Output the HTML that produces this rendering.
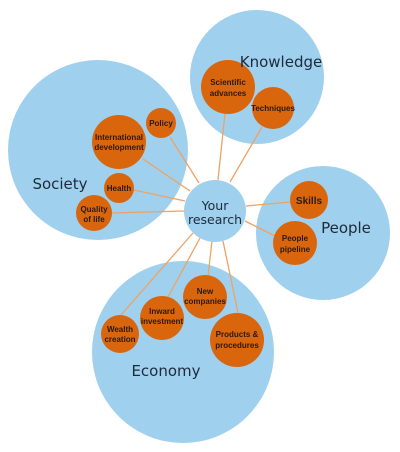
<!DOCTYPE html>
<html><head><meta charset="utf-8"><style>
html,body{margin:0;padding:0;background:#fff;width:400px;height:452px;overflow:hidden}
svg{display:block}
.b{fill:#9fd0ee}
.o{fill:#d9650c}
.l{stroke:#f0a262;stroke-width:1.3}
.t{font-family:"Liberation Sans",sans-serif;font-weight:bold;font-size:8px;fill:#2b1a10;text-anchor:middle}
.h{font-family:"DejaVu Sans","Liberation Sans",sans-serif;font-size:15px;fill:#1e2a3a;text-anchor:middle}
</style></head><body>
<svg width="400" height="452" viewBox="0 0 400 452">
<circle class="b" cx="257" cy="77" r="67"/>
<circle class="b" cx="98" cy="150" r="90"/>
<circle class="b" cx="323" cy="233" r="67"/>
<circle class="b" cx="183" cy="352" r="91"/>
<g class="l">
<line x1="170" y1="137" x2="199" y2="183"/>
<line x1="143" y1="159" x2="190" y2="191"/>
<line x1="134" y1="190" x2="185" y2="201"/>
<line x1="112" y1="213" x2="184" y2="211"/>
<line x1="225" y1="113" x2="218" y2="180"/>
<line x1="262" y1="127" x2="230" y2="182"/>
<line x1="290" y1="202" x2="246" y2="206"/>
<line x1="275" y1="236" x2="245" y2="221"/>
<line x1="121" y1="315" x2="193" y2="233"/>
<line x1="168" y1="297" x2="200" y2="238"/>
<line x1="208" y1="276" x2="212" y2="241"/>
<line x1="238" y1="313" x2="223" y2="241"/>
</g>
<circle class="b" cx="215" cy="211" r="31"/>
<g class="o">
<circle cx="228" cy="87" r="27"/>
<circle cx="273" cy="108" r="21"/>
<circle cx="161" cy="123" r="15"/>
<circle cx="119" cy="142" r="27"/>
<circle cx="119" cy="188" r="15"/>
<circle cx="94" cy="213" r="18"/>
<circle cx="309" cy="200" r="19"/>
<circle cx="295" cy="243" r="22"/>
<circle cx="205" cy="297" r="22"/>
<circle cx="162" cy="318" r="22"/>
<circle cx="120" cy="334" r="19"/>
<circle cx="237" cy="340" r="27"/>
</g>
<text class="h" x="281" y="67">Knowledge</text>
<text class="h" x="60" y="189">Society</text>
<text class="h" x="346" y="233">People</text>
<text class="h" x="166" y="376">Economy</text>
<text class="h" x="215" y="210" style="font-size:12.5px">Your</text>
<text class="h" x="215" y="224" style="font-size:12.5px">research</text>
<g class="t">
<text x="228" y="85">Scientific</text><text x="228" y="96">advances</text>
<text x="273" y="111">Techniques</text>
<text x="161" y="126">Policy</text>
<text x="119" y="140">International</text><text x="119" y="150">development</text>
<text x="119" y="191">Health</text>
<text x="94" y="212">Quality</text><text x="94" y="222">of life</text>
<text x="309" y="204" style="font-size:10px">Skills</text>
<text x="295" y="241">People</text><text x="295" y="252">pipeline</text>
<text x="205" y="294">New</text><text x="205" y="304">companies</text>
<text x="162" y="314">Inward</text><text x="162" y="324">investment</text>
<text x="120" y="332">Wealth</text><text x="120" y="342">creation</text>
<text x="237" y="337">Products &amp;</text><text x="237" y="348">procedures</text>
</g>
</svg>
</body></html>
